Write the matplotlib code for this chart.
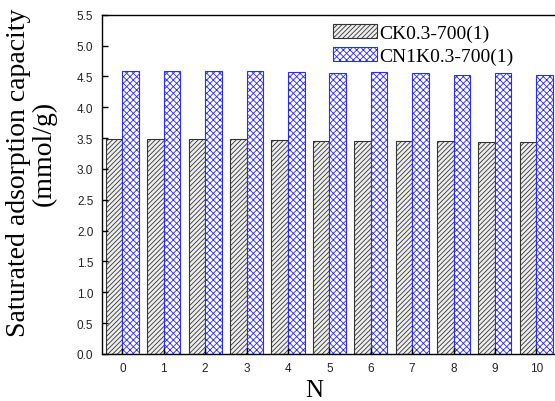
import numpy as np
import matplotlib
matplotlib.use("Agg")
import matplotlib.pyplot as plt

# cycle number and saturated adsorption capacity (mmol/g)
cycles = [0, 1, 2, 3, 4, 5, 6, 7, 8, 9, 10]
ck = [3.49, 3.49, 3.48, 3.48, 3.47, 3.46, 3.45, 3.46, 3.45, 3.44, 3.43]
cn1k = [4.58, 4.58, 4.58, 4.58, 4.57, 4.56, 4.57, 4.55, 4.53, 4.55, 4.53]
labels = ["CK0.3-700(1)", "CN1K0.3-700(1)"]

plt.rcParams['hatch.linewidth'] = 0.6
W, H = 555, 402
fig = plt.figure(figsize=(W/100, H/100), dpi=100)
ax = fig.add_axes([101.7/W, 47/H, (557-101.7)/W, 339.3/H])

x = np.array(cycles)
bw = 0.4
ax.bar(x, ck, width=-bw, align='edge', color='#eeeeee', edgecolor='#333333',
       hatch='///////', lw=0.8, label=labels[0])
ax.bar(x, cn1k, width=bw, align='edge', color='white', edgecolor='#2a2aff',
       hatch='xxxxx', lw=0.8, label=labels[1])

ax.set_xlim(-0.5, 10.5); ax.set_ylim(0, 5.5)
ax.set_xticks(cycles)
ax.set_yticks(np.arange(0, 5.51, 0.5))
ax.set_yticklabels([f"{v:.1f}" for v in np.arange(0, 5.51, 0.5)])
ax.tick_params(direction='in', length=4, width=1, labelsize=8.5, colors='black',
               labelcolor='#222222', pad=6, top=False, right=False)
for t in ax.get_xticklabels() + ax.get_yticklabels():
    t.set_family('Liberation Sans')
for s in ax.spines.values():
    s.set_linewidth(1.0)

ax.set_xlabel("N", family='Liberation Serif', fontsize=18)
ax.xaxis.set_label_coords((314-101.7)/(557-101.7), -0.075)

fig.text(19/W, 1-173/H, "Saturated adsorption capacity", rotation=90,
         family='Liberation Serif', fontsize=20, ha='center', va='center')
fig.text(44/W, 1-153/H, "(mmol/g)", rotation=90,
         family='Liberation Serif', fontsize=20, ha='center', va='center')

ax.legend(loc='upper left', bbox_to_anchor=(333/W, 1-25/H), bbox_transform=fig.transFigure,
          frameon=False, prop={'family': 'Liberation Serif', 'size': 14},
          handlelength=2.25, handleheight=0.75, handletextpad=0.15,
          labelspacing=0.25, borderpad=0, borderaxespad=0)

fig.savefig("out.png", dpi=100)
